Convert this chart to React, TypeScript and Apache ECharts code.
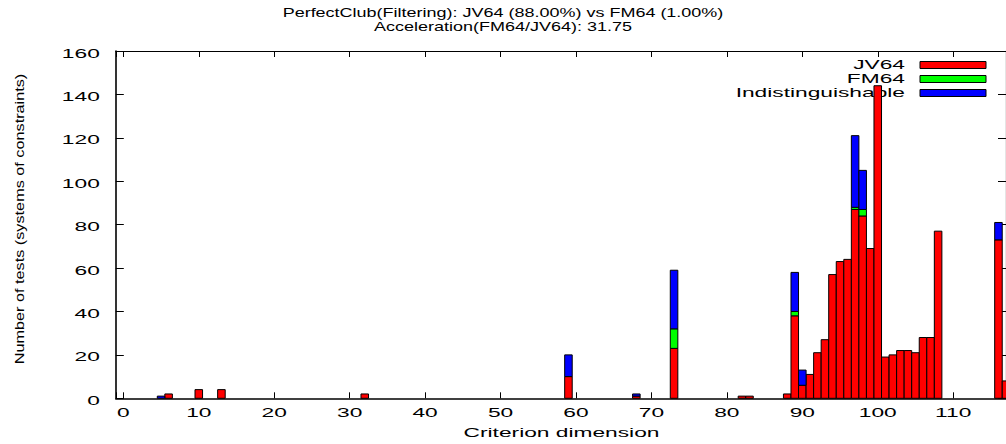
import React, { useEffect, useRef } from "react";
import * as echarts from "echarts";

// ---- data ----
const dims = [5, 6, 10, 13, 32, 59, 68, 73, 82, 83, 88, 89, 90, 91, 92, 93, 94, 95, 96, 97, 98, 99, 100, 101, 102, 103, 104, 105, 106, 107, 108, 116, 117];
const jv64 = [0, 2, 4, 4, 2, 10, 1, 23, 1, 1, 2, 38, 6, 11, 21, 27, 57, 63, 64, 87, 84, 69, 144, 19, 20, 22, 22, 21, 28, 28, 77, 73, 8];
const fm64 = [0, 0, 0, 0, 0, 0, 0, 9, 0, 0, 0, 2, 0, 0, 0, 0, 0, 0, 0, 1, 3, 0, 0, 0, 0, 0, 0, 0, 0, 0, 0, 0, 0];
const indist = [1, 0, 0, 0, 0, 10, 1, 27, 0, 0, 0, 18, 7, 0, 0, 0, 0, 0, 0, 33, 18, 0, 0, 0, 0, 0, 0, 0, 0, 0, 0, 8, 0];

const seriesNames = ["JV64", "FM64", "Indistinguishable"];
const seriesColors = ["#ff0000", "#00ff00", "#0000ff"];
const xTicks = [0, 10, 20, 30, 40, 50, 60, 70, 80, 90, 100, 110];
const yTicks = [0, 20, 40, 60, 80, 100, 120, 140, 160];
const titleLines = [
  "PerfectClub(Filtering): JV64 (88.00%) vs FM64 (1.00%)",
  "Acceleration(FM64/JV64): 31.75",
];
const xName = "Criterion dimension";
const yName = "Number of tests (systems of constraints)";

const X_MIN = -1;
const X_MAX = 117;
const Y_MIN = 0;
const Y_MAX = 160;

const FONT = "Liberation Sans";
const SX = 1.75;

function stackedLayer(idx: number): number[][] {
  const layers = [jv64, fm64, indist];
  const out: number[][] = [];
  dims.forEach((d, i) => {
    let base = 0;
    for (let k = 0; k < idx; k++) base += layers[k][i];
    const top = base + layers[idx][i];
    if (top > base) out.push([d, base, top]);
  });
  return out;
}

export default function App() {
  const ref = useRef<HTMLDivElement>(null);

  useEffect(() => {
    if (!ref.current) return;
    const chart = echarts.init(ref.current, undefined, { renderer: "svg" });

    const barSeries = seriesNames.map((name, idx) => ({
      name,
      type: "custom",
      coordinateSystem: "cartesian2d",
      silent: true,
      itemStyle: { color: seriesColors[idx], borderColor: "#000", borderWidth: 1 },
      data: stackedLayer(idx),
      renderItem: (_p: any, api: any) => {
        const x = api.value(0);
        const b = api.value(1);
        const t = api.value(2);
        const p0 = api.coord([x - 0.5, t]);
        const p1 = api.coord([x + 0.5, b]);
        return {
          type: "rect",
          shape: { x: p0[0], y: p0[1], width: p1[0] - p0[0], height: p1[1] - p0[1] },
          style: { fill: seriesColors[idx], stroke: "#000", lineWidth: 1 },
        };
      },
      z: 3,
    }));

    const xLabelSeries = {
      type: "custom",
      coordinateSystem: "cartesian2d",
      silent: true,
      clip: false,
      data: xTicks.map((v) => [v, Y_MIN]),
      renderItem: (_p: any, api: any) => {
        const v = api.value(0);
        const p = api.coord([v, Y_MIN]);
        return {
          type: "text",
          x: p[0],
          y: p[1] + 14.5,
          scaleX: SX,
          style: {
            text: String(v),
            fontSize: 13,
            fontFamily: FONT,
            fill: "#000",
            align: "center",
            verticalAlign: "middle",
          },
        };
      },
      z: 5,
    };

    const yLabelSeries = {
      type: "custom",
      coordinateSystem: "cartesian2d",
      silent: true,
      clip: false,
      data: yTicks.map((v) => [X_MIN, v]),
      renderItem: (_p: any, api: any) => {
        const v = api.value(1);
        const p = api.coord([X_MIN, v]);
        return {
          type: "text",
          x: p[0] - 16,
          y: p[1] + 2,
          scaleX: SX,
          style: {
            text: String(v),
            fontSize: 13,
            fontFamily: FONT,
            fill: "#000",
            align: "right",
            verticalAlign: "middle",
          },
        };
      },
      z: 5,
    };

    const axisCommon = {
      min: X_MIN,
      max: X_MAX,
      splitNumber: 12,
      axisLabel: { show: false },
      splitLine: { show: false },
      axisTick: { show: true, inside: true, length: 6, lineStyle: { color: "#000", width: 1 } },
    };

    const legendEls: any[] = [];
    seriesNames.forEach((n, i) => {
      legendEls.push({
        type: "text",
        id: "legend-text-" + i,
        x: 905,
        y: 64.5 + i * 14,
        scaleX: SX,
        silent: true,
        z: 1,
        style: {
          text: n,
          fontSize: 13,
          fontFamily: FONT,
          fill: "#000",
          align: "right",
          verticalAlign: "middle",
        },
      });
      legendEls.push({
        type: "rect",
        id: "legend-key-" + i,
        x: 920,
        y: 61.5 + i * 14,
        silent: true,
        z: 20,
        shape: { x: 0, y: 0, width: 66, height: 7 },
        style: { fill: seriesColors[i], stroke: "#000", lineWidth: 1 },
      });
    });

    chart.setOption({
      animation: false,
      backgroundColor: "#fff",
      textStyle: { fontFamily: FONT },
      grid: { left: 115.8, top: 51, width: 891.1, height: 347.3, containLabel: false },
      xAxis: [
        {
          ...axisCommon,
          type: "value",
          position: "bottom",
          axisLine: { show: true, onZero: false, lineStyle: { color: "#000", width: 1.6 } },
        },
        {
          ...axisCommon,
          type: "value",
          position: "top",
          axisLine: { show: true, onZero: false, lineStyle: { color: "#000", width: 1.2 } },
        },
      ],
      yAxis: [
        {
          type: "value",
          min: Y_MIN,
          max: Y_MAX,
          interval: 20,
          position: "left",
          axisLabel: { show: false },
          splitLine: { show: false },
          axisLine: { show: true, onZero: false, lineStyle: { color: "#000", width: 1.6 } },
          axisTick: { show: true, inside: true, length: 8, lineStyle: { color: "#000", width: 1 } },
        },
        {
          type: "value",
          min: Y_MIN,
          max: Y_MAX,
          interval: 20,
          position: "right",
          axisLabel: { show: false },
          splitLine: { show: false },
          axisLine: { show: true, onZero: false, lineStyle: { color: "#000", width: 1.2 } },
          axisTick: { show: true, inside: true, length: 8, lineStyle: { color: "#000", width: 1 } },
        },
      ],
      series: [...barSeries, xLabelSeries, yLabelSeries],
      graphic: [
        {
          type: "text",
          id: "title-1",
          x: 503,
          y: 13,
          scaleX: 1.5,
          silent: true,
          style: { text: titleLines[0], fontSize: 12, fontFamily: FONT, fill: "#000", align: "center", verticalAlign: "middle" },
        },
        {
          type: "text",
          id: "title-2",
          x: 503,
          y: 27,
          scaleX: 1.5,
          silent: true,
          style: { text: titleLines[1], fontSize: 12, fontFamily: FONT, fill: "#000", align: "center", verticalAlign: "middle" },
        },
        ...legendEls,
        {
          type: "text",
          id: "x-name",
          x: 561.5,
          y: 432.7,
          scaleX: SX,
          silent: true,
          style: { text: xName, fontSize: 13, fontFamily: FONT, fill: "#000", align: "center", verticalAlign: "middle" },
        },
        {
          type: "text",
          id: "y-name",
          x: 20,
          y: 219,
          rotation: Math.PI / 2,
          scaleX: 1.3,
          silent: true,
          style: { text: yName, fontSize: 12.5, fontFamily: FONT, fill: "#000", align: "center", verticalAlign: "middle" },
        },
      ],
    });

    return () => chart.dispose();
  }, []);

  return (
    <div
      ref={ref}
      style={{ position: "fixed", left: 0, top: 0, width: 1006, height: 444, background: "#fff" }}
    />
  );
}
